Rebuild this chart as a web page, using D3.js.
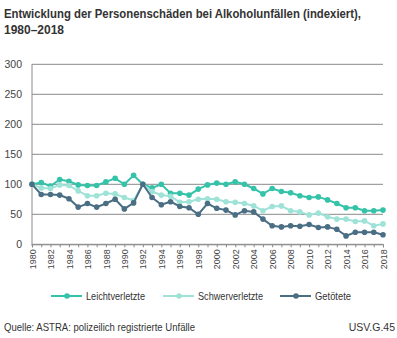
<!DOCTYPE html>
<html>
<head>
<meta charset="utf-8">
<script src="https://cdn.jsdelivr.net/npm/d3@7"></script>
<style>
  body { margin: 0; background: #fff; }
  svg { font-family: "Liberation Sans", Arial, sans-serif; }
</style>
</head>
<body>
<svg id="chart" width="397" height="338"></svg>
<script>
var years = d3.range(1980, 2019);
var leicht = [100, 103, 97, 108, 105, 99, 98, 98, 104, 110, 100, 115, 100, 94, 100, 85, 85, 82, 92, 99,
    102, 100, 104, 100, 93, 84, 93, 88, 86, 81, 78, 79, 74, 68, 61, 61, 56, 56, 57];
var schwer = [100, 94, 93, 99, 98, 89, 81, 81, 85, 84, 78, 73, 100, 88, 82, 80, 70, 71, 75, 76,
    75, 71, 70, 68, 64, 56, 63, 64, 56, 54, 49, 52, 46, 42, 42, 38, 39, 31, 34];
var getoetet = [100, 83, 83, 82, 76, 62, 68, 62, 68, 75, 59, 69, 100, 78, 66, 71, 63, 61, 50, 68,
    60, 57, 49, 56, 54, 42, 31, 29, 31, 30, 33, 28, 29, 25, 14, 20, 20, 20, 16];
var yTicks = [0, 50, 100, 150, 200, 250, 300];

var series = [
    { name: "Leichtverletzte", values: leicht, color: "#34c3a9" },
    { name: "Schwerverletzte", values: schwer, color: "#9fe2d7" },
    { name: "Getötete", values: getoetet, color: "#4a6e84" }
];

var svg = d3.select("#chart");

// squeeze text to a narrow width (the original uses a condensed face)
function fit(sel, w) {
    sel.attr("textLength", w).attr("lengthAdjust", "spacingAndGlyphs");
}

var x = d3.scaleLinear().domain([1980, 2018]).range([32, 383]);
var y = d3.scaleLinear().domain([0, 300]).range([244.3, 64.3]);

// title
svg.append("text").attr("x", 4).attr("y", 18)
    .attr("font-size", 12.5).attr("font-weight", "bold").attr("fill", "#333")
    .text("Entwicklung der Personenschäden bei Alkoholunfällen (indexiert),")
    .call(fit, 357);
svg.append("text").attr("x", 4).attr("y", 34)
    .attr("font-size", 12.5).attr("font-weight", "bold").attr("fill", "#333")
    .text("1980–2018")
    .call(fit, 60);

// grid
svg.append("g").selectAll("line").data(yTicks).enter().append("line")
    .attr("x1", 32).attr("x2", 383)
    .attr("y1", d => y(d)).attr("y2", d => y(d))
    .attr("stroke", "#8a8a8a").attr("stroke-width", 1);

svg.append("g").selectAll("text").data(yTicks).enter().append("text")
    .attr("x", 22).attr("y", d => y(d) + 4)
    .attr("text-anchor", "end").attr("font-size", 10.5).attr("fill", "#444")
    .text(d => d);

// y axis line
svg.append("line").attr("x1", 32).attr("x2", 32).attr("y1", 64).attr("y2", 246)
    .attr("stroke", "#8a8a8a");

// x axis
var xAxis = d3.axisBottom(x)
    .tickValues(years)
    .tickSize(3)
    .tickFormat(d => d % 2 === 0 ? d : "");
var gx = svg.append("g").attr("transform", "translate(0,244.3)").call(xAxis);
gx.select(".domain").attr("stroke", "#8a8a8a");
gx.selectAll(".tick line").attr("stroke", "#8a8a8a");
gx.selectAll(".tick text")
    .attr("transform", "rotate(-90)")
    .attr("text-anchor", "end")
    .attr("x", -5).attr("y", 0).attr("dy", "0.35em")
    .attr("font-size", 9).attr("fill", "#444")
    .attr("font-family", "Liberation Sans, Arial, sans-serif");

// lines
var line = d3.line()
    .x((d, i) => x(years[i]))
    .y(d => y(d));

series.forEach(function(s) {
    svg.append("path").datum(s.values)
        .attr("d", line)
        .attr("fill", "none")
        .attr("stroke", s.color)
        .attr("stroke-width", 2);
    svg.append("g").selectAll("circle").data(s.values).enter().append("circle")
        .attr("cx", (d, i) => x(years[i]))
        .attr("cy", d => y(d))
        .attr("r", 2.8)
        .attr("fill", s.color);
});

// legend
var legendX = [51, 163, 280];
var legendW = [59, 65, 36];
var lg = svg.append("g").selectAll("g").data(series).enter().append("g")
    .attr("transform", (d, i) => "translate(" + legendX[i] + ",296)");
lg.append("line").attr("x1", 0).attr("x2", 31).attr("y1", 0).attr("y2", 0)
    .attr("stroke", d => d.color).attr("stroke-width", 2);
lg.append("circle").attr("cx", 16).attr("cy", 0).attr("r", 2.8).attr("fill", d => d.color);
lg.append("text").attr("x", 35).attr("y", 4)
    .attr("font-size", 10.5).attr("fill", "#333")
    .attr("textLength", (d, i) => legendW[i]).attr("lengthAdjust", "spacingAndGlyphs")
    .text(d => d.name);

// footer
svg.append("text").attr("x", 4).attr("y", 331)
    .attr("font-size", 10.5).attr("fill", "#333")
    .text("Quelle: ASTRA: polizeilich registrierte Unfälle")
    .call(fit, 191);
svg.append("text").attr("x", 395).attr("y", 331).attr("text-anchor", "end")
    .attr("font-size", 10.5).attr("fill", "#333")
    .text("USV.G.45");
</script>
</body>
</html>
